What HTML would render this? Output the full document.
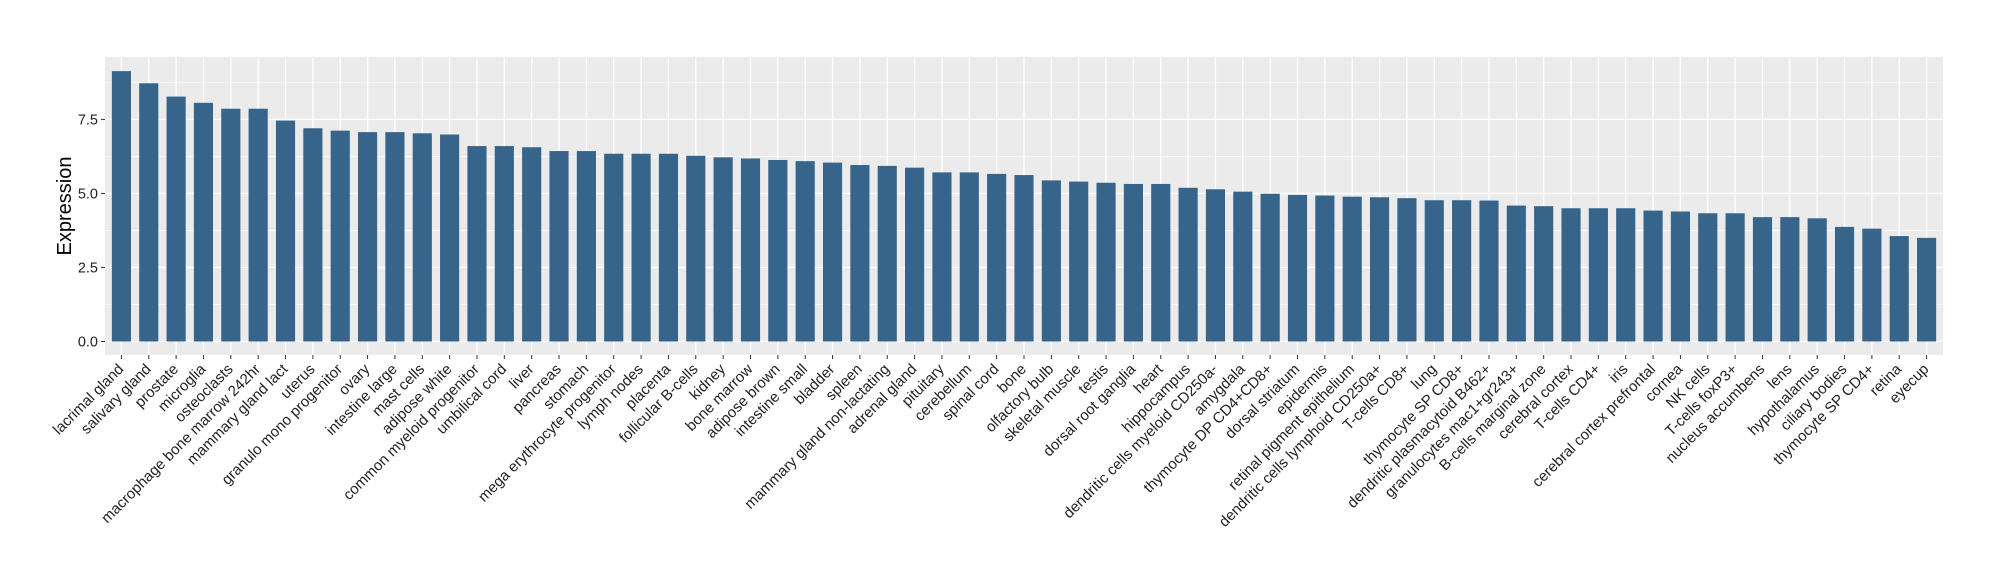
<!DOCTYPE html>
<html><head><meta charset="utf-8"><style>
body{margin:0;background:#fff;}
svg{display:block;font-family:"Liberation Sans",sans-serif;}
</style></head><body>
<svg id="chart" width="2000" height="580"></svg>
<script>
const categories=["lacrimal gland","salivary gland","prostate","microglia","osteoclasts","macrophage bone marrow 242hr","mammary gland  lact","uterus","granulo mono progenitor","ovary","intestine large","mast cells","adipose white","common myeloid progenitor","umbilical cord","liver","pancreas","stomach","mega erythrocyte progenitor","lymph nodes","placenta","follicular B-cells","kidney","bone marrow","adipose brown","intestine small","bladder","spleen","mammary gland non-lactating","adrenal gland","pituitary","cerebellum","spinal cord","bone","olfactory bulb","skeletal muscle","testis","dorsal root ganglia","heart","hippocampus","dendritic cells myeloid CD250a-","amygdala","thymocyte DP CD4+CD8+","dorsal striatum","epidermis","retinal pigment epithelium","dendritic cells lymphoid CD250a+","T-cells CD8+","lung","thymocyte SP CD8+","dendritic plasmacytoid B462+","granulocytes mac1+gr243+","B-cells marginal zone","cerebral cortex","T-cells CD4+","iris","cerebral cortex prefrontal","cornea","NK cells","T-cells foxP3+","nucleus accumbens","lens","hypothalamus","ciliary bodies","thymocyte SP CD4+","retina","eyecup"];
const values=[9.13,8.72,8.27,8.06,7.86,7.86,7.46,7.2,7.12,7.07,7.07,7.03,6.99,6.6,6.6,6.56,6.43,6.43,6.34,6.34,6.34,6.27,6.22,6.18,6.13,6.09,6.04,5.96,5.93,5.87,5.71,5.71,5.66,5.62,5.44,5.4,5.36,5.32,5.32,5.19,5.14,5.06,4.99,4.95,4.93,4.89,4.87,4.84,4.77,4.77,4.76,4.59,4.57,4.5,4.5,4.5,4.42,4.39,4.33,4.33,4.2,4.2,4.16,3.87,3.81,3.56,3.5];
const yTicks=[0,2.5,5,7.5];
const yTickLabels=["0.0","2.5","5.0","7.5"];

const NS="http://www.w3.org/2000/svg";
const svg=document.getElementById('chart');
const L=105,R=1943,T=57,B=355;
const yMin=-0.456,yMax=9.607;
const n=categories.length;
const step=(R-L)/(n-1+1.2);
const x=i=>L+step*(0.6+i);
const y=v=>B-(v-yMin)/(yMax-yMin)*(B-T);
function mk(tag,attrs,parent){const e=document.createElementNS(NS,tag);for(const k in attrs)e.setAttribute(k,attrs[k]);(parent||svg).appendChild(e);return e;}

const panel=mk('rect',{x:L,y:T,width:R-L,height:B-T,fill:'#ebebeb'});


for(let k=0;k<yTicks.length;k++){const v=yTicks[k]+1.25;if(v<yMax){const g=mk('line',{x1:L,x2:R,y1:y(v),y2:y(v),stroke:'#fff','stroke-width':0.6});

}}
yTicks.forEach((v,k)=>{
 const g=mk('line',{x1:L,x2:R,y1:y(v),y2:y(v),stroke:'#fff','stroke-width':1.3});
 
 
 const t=mk('line',{x1:L-4,x2:L,y1:y(v),y2:y(v),stroke:'#333','stroke-width':1});
 
 
 const lb=mk('text',{x:L-7,y:y(v)+5,'text-anchor':'end','font-size':14.5,fill:'#222'});
 lb.textContent=yTickLabels[k];
 
 
});
categories.forEach((c,i)=>{
 const g=mk('line',{x1:x(i),x2:x(i),y1:T,y2:B,stroke:'#fff','stroke-width':1.3});
 
 
});
const bw=step*0.7;
categories.forEach((c,i)=>{
 const b=mk('rect',{x:x(i)-bw/2,y:y(values[i]),width:bw,height:y(0)-y(values[i]),fill:'#36648b'});
 
 
 const t=mk('line',{x1:x(i),x2:x(i),y1:B,y2:B+4,stroke:'#333','stroke-width':1});
 
 
 const lb=mk('text',{'text-anchor':'end','font-size':15,fill:'#222',transform:`translate(${x(i)+3},${B+15}) rotate(-45)`});
 lb.textContent=c;
 
 
});
const yt=mk('text',{'text-anchor':'middle','font-size':20,fill:'#000',transform:`translate(71,${(T+B)/2}) rotate(-90)`});
yt.textContent='Expression';


</script>
</body></html>
